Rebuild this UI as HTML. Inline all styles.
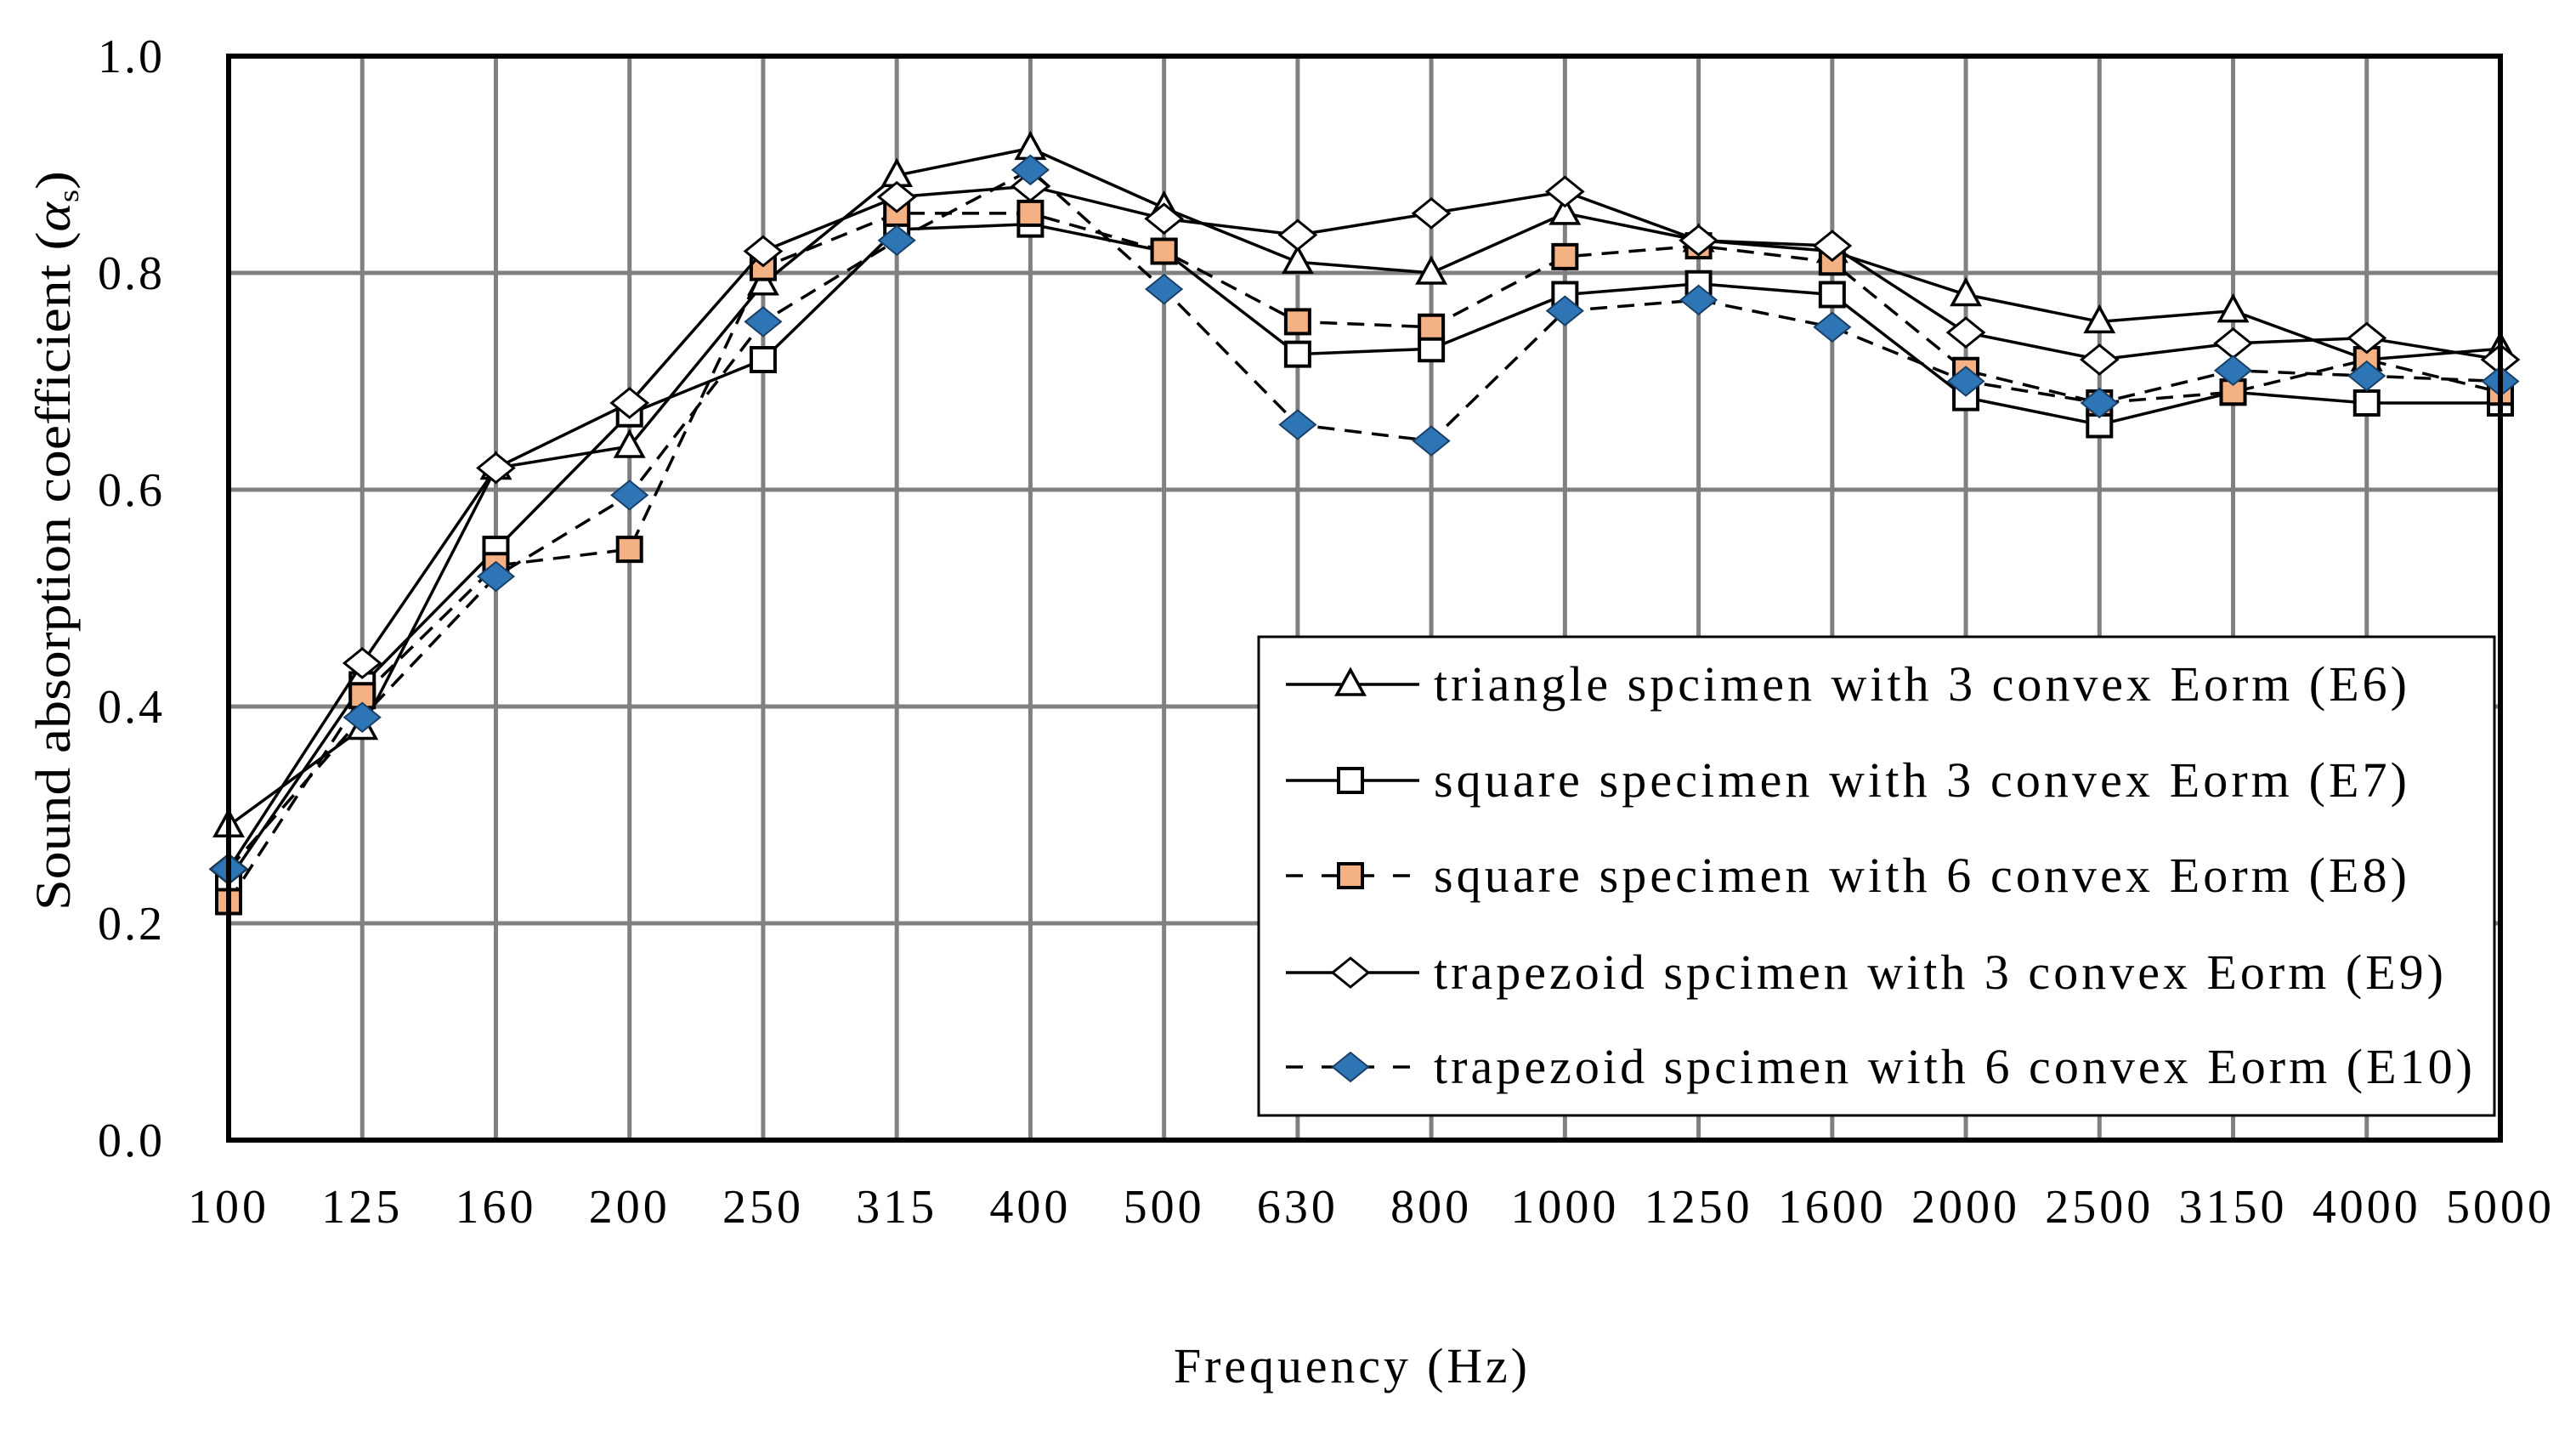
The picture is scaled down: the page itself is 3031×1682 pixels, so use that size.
<!DOCTYPE html>
<html><head><meta charset="utf-8"><style>
html,body{margin:0;padding:0;background:#fff;}
svg{display:block;font-family:"Liberation Serif",serif;}
</style></head><body>
<svg id="chart" width="3031" height="1682" viewBox="0 0 3031 1682">
<g id="grid"></g>
<g id="series"></g>
<g id="axes"></g>
<g id="legend"></g>
<text x="1589" y="1626" font-size="58" text-anchor="middle" textLength="416" lengthAdjust="spacing">Frequency (Hz)</text>
<text transform="translate(82,636) rotate(-90)" font-size="58" text-anchor="middle" textLength="870" lengthAdjust="spacingAndGlyphs">Sound absorption coefficient (<tspan font-style="italic">α</tspan><tspan font-size="34" dy="10">s</tspan><tspan dy="-10">)</tspan></text>
</svg>
<script>
const categories=["100","125","160","200","250","315","400","500","630","800","1000","1250","1600","2000","2500","3150","4000","5000"];
const yTicks=[0,0.2,0.4,0.6,0.8,1.0];
const e6=[0.29,0.38,0.62,0.64,0.79,0.89,0.915,0.86,0.81,0.80,0.855,0.83,0.82,0.78,0.755,0.765,0.72,0.73];
const e7=[0.24,0.42,0.545,0.67,0.72,0.84,0.845,0.82,0.725,0.73,0.78,0.79,0.78,0.685,0.66,0.69,0.68,0.68];
const e8=[0.22,0.41,0.53,0.545,0.805,0.855,0.855,0.82,0.755,0.75,0.815,0.825,0.81,0.71,0.68,0.69,0.72,0.69];
const e9=[0.25,0.44,0.62,0.68,0.82,0.87,0.88,0.85,0.835,0.855,0.875,0.83,0.825,0.745,0.72,0.735,0.74,0.72];
const e10=[0.25,0.39,0.52,0.595,0.755,0.83,0.895,0.785,0.66,0.645,0.765,0.775,0.75,0.70,0.68,0.71,0.705,0.70];
const legendLabels=["triangle spcimen with 3 convex Eorm (E6)","square specimen with 3 convex Eorm (E7)","square specimen with 6 convex Eorm (E8)","trapezoid spcimen with 3 convex Eorm (E9)","trapezoid spcimen with 6 convex Eorm (E10)"];
const legendWidths=[1145,1145,1145,1188,1222];

const L=269,R=2942,T=66,B=1341;
const NS="http://www.w3.org/2000/svg";
function xS(i){return L+i*(R-L)/(categories.length-1);}
function yS(v){return B-v*(B-T);}
function mk(tag,attrs,parent){const e=document.createElementNS(NS,tag);for(const k in attrs)e.setAttribute(k,attrs[k]);parent.appendChild(e);return e;}
const grid=document.getElementById('grid'),axes=document.getElementById('axes'),ser=document.getElementById('series'),leg=document.getElementById('legend');
categories.forEach((c,i)=>{
  const l=mk('line',{x1:xS(i),x2:xS(i),y1:T,y2:B,stroke:'#808080','stroke-width':5},grid);
  
  
  const t=mk('text',{x:xS(i),y:1438,'font-size':56,'text-anchor':'middle','letter-spacing':4},axes);
  t.textContent=c;
  
  
});
yTicks.forEach(v=>{
  const l=mk('line',{x1:L,x2:R,y1:yS(v),y2:yS(v),stroke:'#808080','stroke-width':5},grid);
  
  
  const t=mk('text',{x:194,y:yS(v)+19,'font-size':56,'text-anchor':'end','letter-spacing':3},axes);
  t.textContent=v.toFixed(1);
  
  
});
const frame=mk('rect',{x:L,y:T,width:R-L,height:B-T,fill:'none',stroke:'#000','stroke-width':6},axes);



function marker(type,x,y,parent){
  let e;
  if(type==='tri'){e=mk('polygon',{points:`${x},${y-17} ${x-16},${y+12} ${x+16},${y+12}`,fill:'#fff',stroke:'#000','stroke-width':3.5},parent);}
  else if(type==='sq'){e=mk('rect',{x:x-14,y:y-14,width:28,height:28,fill:'#fff',stroke:'#000','stroke-width':4},parent);}
  else if(type==='sqo'){e=mk('rect',{x:x-14,y:y-14,width:28,height:28,fill:'#f4b183',stroke:'#000','stroke-width':4},parent);}
  else if(type==='dia'){e=mk('polygon',{points:`${x},${y-17} ${x+21},${y} ${x},${y+17} ${x-21},${y}`,fill:'#fff',stroke:'#000','stroke-width':3},parent);}
  else {e=mk('polygon',{points:`${x},${y-17} ${x+21},${y} ${x},${y+17} ${x-21},${y}`,fill:'#2e75b6',stroke:'#1a3f66','stroke-width':2},parent);}
  
  
}
const seriesDefs=[[e6,'tri',false,'series-e6'],[e7,'sq',false,'series-e7'],[e8,'sqo',true,'series-e8'],[e9,'dia',false,'series-e9'],[e10,'dib',true,'series-e10']];
seriesDefs.forEach(([d,m,dash,name])=>{
  const g=mk('g',{},ser);
  
  
  const pts=d.map((v,i)=>xS(i)+','+yS(v)).join(' ');
  const a={points:pts,fill:'none',stroke:'#000','stroke-width':3.5};
  if(dash)a['stroke-dasharray']='20 12';
  const pl=mk('polyline',a,g);
  
  
  d.forEach((v,i)=>marker(m,xS(i),yS(v),g));
});
const lb=mk('rect',{x:1481,y:749,width:1454,height:563,fill:'#fff',stroke:'#000','stroke-width':3},leg);


const rowsY=[805,918,1030,1144,1255];
legendLabels.forEach((lab,k)=>{
  const g=mk('g',{},leg);
  
  
  const y=rowsY[k],def=seriesDefs[k];
  const a={x1:1513,x2:1670,y1:y,y2:y,stroke:'#000','stroke-width':3.5};
  if(def[2])a['stroke-dasharray']='20 22';
  mk('line',a,g);
  marker(def[1],1589,y,g);
  const t=mk('text',{x:1687,y:y+19,'font-size':58,textLength:legendWidths[k],lengthAdjust:'spacing'},g);
  t.textContent=lab;
});
</script>
</body></html>
